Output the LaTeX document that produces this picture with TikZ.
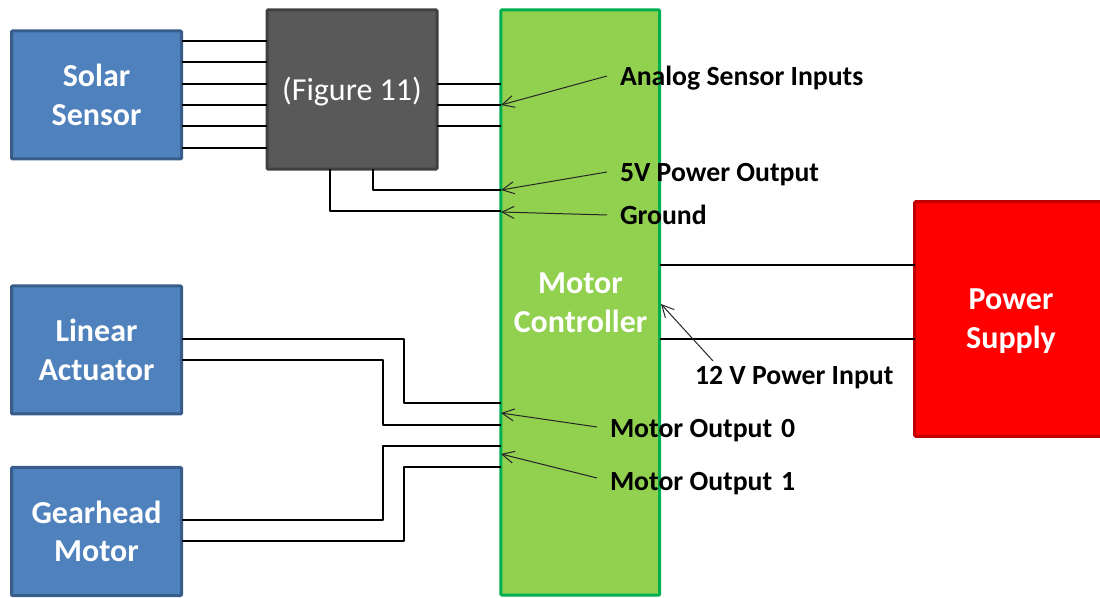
\documentclass[tikz,border=0pt]{standalone}
\usepackage{fontspec}
\setmainfont{Carlito}
\usetikzlibrary{arrows.meta}
\definecolor{blueF}{HTML}{4F81BD}
\definecolor{blueD}{HTML}{385D8A}
\definecolor{grayF}{HTML}{595959}
\definecolor{grayD}{HTML}{404040}
\definecolor{greenF}{HTML}{92D050}
\definecolor{greenD}{HTML}{00B050}
\definecolor{redD}{HTML}{C00000}
\tikzset{
  x=0.75pt,y=-0.75pt,
  box/.style={draw,line width=2.25pt,rounded corners=0.8pt,outer sep=0pt,inner sep=0pt,align=center,text=white,
    font=\fontsize{24pt}{29pt}\selectfont\bfseries},
  sensorbox/.style={box,fill=blueF,draw=blueD,minimum width=127.5pt,minimum height=96pt},
  wire/.style={line width=2pt,black,line join=round},
  pointer/.style={line width=0.75pt,draw=black!85,-{Straight Barb[length=9pt,width=9pt,line width=0.75pt]}},
  label/.style={anchor=base west,inner sep=0pt,outer sep=0pt,text=black,font=\fontsize{20.8pt}{25pt}\selectfont\bfseries},
}
\begin{document}
\begin{tikzpicture}
\useasboundingbox (0,0) rectangle (1100,598);
% boxes
\node[sensorbox] (solar) at (96.5,95) {Solar\\Sensor};
\node[sensorbox] (linear) at (96.5,350) {Linear\\Actuator};
\node[sensorbox] (gear) at (96.5,531.5) {Gearhead\\Motor};
\node[box,fill=grayF,draw=grayD,minimum width=127.5pt,minimum height=119.5pt] (fig) at (352,89.5) {};
\node[font=\fontsize{24pt}{29pt}\selectfont,text=white,inner sep=0pt] (figtext) at (352,92) {(Figure 11)};
\node[box,fill=greenF,draw=greenD,minimum width=119pt,minimum height=439pt] (ctrl) at (580.2,302.5) {};
\node[font=\fontsize{24pt}{29pt}\selectfont\bfseries,text=white,align=center,inner sep=0pt] (ctrltext) at (580.5,302.5) {Motor\\Controller};
\node[box,fill=red,draw=redD,minimum width=143pt,minimum height=176pt] (psu) at (1010,319) {};
\node[font=\fontsize{24pt}{29pt}\selectfont\bfseries,text=white,align=center,inner sep=0pt] (psutext) at (1011,321) {Power\\Supply};
% solar to figure
\foreach \y in {41,62,84,105,126,148}
  \draw[wire] (solar.east |- 0,\y) -- (fig.west |- 0,\y);
% figure to controller
\foreach \y in {84,105,126}
  \draw[wire] (fig.east |- 0,\y) -- (ctrl.west |- 0,\y);
\draw[wire] (fig.south -| 373,0) |- (ctrl.west |- 0,190);
\draw[wire] (fig.south -| 330,0) |- (ctrl.west |- 0,211);
% actuators
\draw[wire] (linear.east |- 0,339) -- (404,339) -- (404,403) -- (ctrl.west |- 0,403);
\draw[wire] (linear.east |- 0,360) -- (383,360) -- (383,425) -- (ctrl.west |- 0,425);
\draw[wire] (gear.east |- 0,520) -- (383,520) -- (383,446) -- (ctrl.west |- 0,446);
\draw[wire] (gear.east |- 0,541) -- (404,541) -- (404,467) -- (ctrl.west |- 0,467);
% power
\draw[wire] (ctrl.east |- 0,265) -- (psu.west |- 0,265);
\draw[wire] (ctrl.east |- 0,339) -- (psu.west |- 0,339);
% labels
\node[label] (l1) at (620,86) {Analog Sensor Inputs};
\node[label] (l2) at (620,182) {5V Power Output};
\node[label] (l3) at (620,225) {Ground};
\node[label] (l4) at (695,385) {12 V Power Input};
\node[label] (l5) at (610,438) {Motor Output~\hspace{2pt}0};
\node[label] (l6) at (610,490) {Motor Output~\hspace{2pt}1};
\coordinate (t1) at (501,105);
\coordinate (t2) at (501,190);
\coordinate (t3) at (501,212);
\coordinate (t4) at (661,304);
\coordinate (t5) at (501,413);
\coordinate (t6) at (501,454);
\coordinate (s1) at (607,76);
\coordinate (s2) at (607,172);
\coordinate (s3) at (607,215);
\coordinate (s4) at (713,361);
\coordinate (s5) at (597,427);
\coordinate (s6) at (597,478);
\foreach \i in {1,...,6}
  \draw[pointer] (s\i) -- (t\i);
\end{tikzpicture}
\end{document}
